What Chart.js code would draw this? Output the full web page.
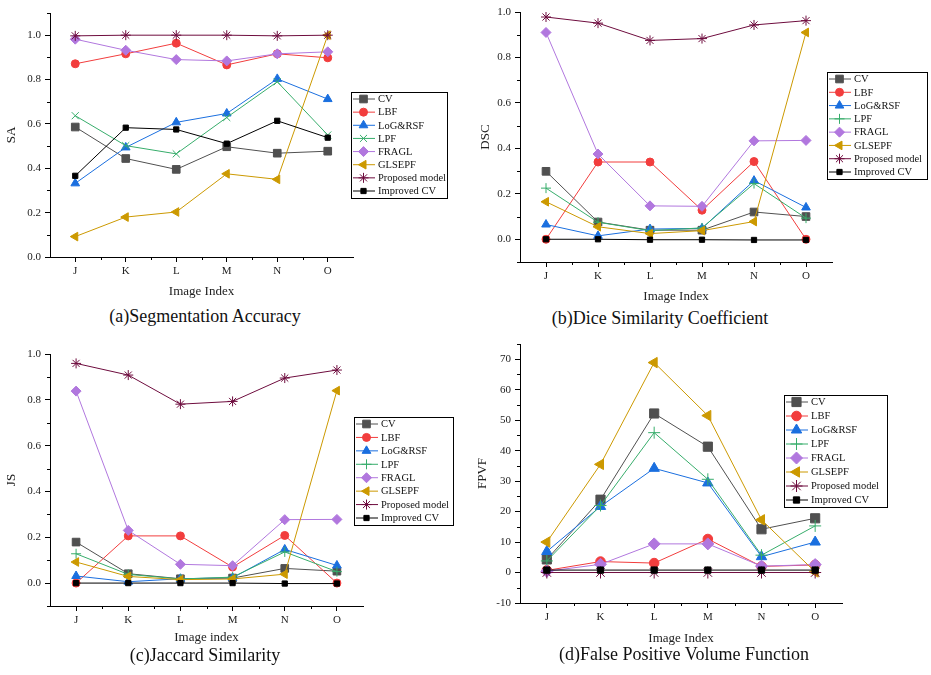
<!DOCTYPE html>
<html lang="en">
<head>
<meta charset="UTF-8">
<title>Segmentation metrics by image index</title>
<script src="https://cdn.jsdelivr.net/npm/chart.js"></script>
<style>
  body { margin: 0; background: #fff; }
  #wrap { position: relative; width: 931px; height: 675px; background: #fff; overflow: hidden; }
  #wrap canvas { position: absolute; }
  .cap { position: absolute; width: 400px; text-align: center; font: 18px "Liberation Serif", "Times New Roman", serif; color: #111; line-height: 20px; }
</style>
</head>
<body>
<div id="wrap">
  <canvas id="cA" width="465" height="305" style="left:0;top:0"></canvas>
  <canvas id="cB" width="466" height="305" style="left:465px;top:0"></canvas>
  <canvas id="cC" width="465" height="320" style="left:0;top:330px"></canvas>
  <canvas id="cD" width="466" height="320" style="left:465px;top:330px"></canvas>
  <div class="cap" style="left:5px;top:306px">(a)Segmentation Accuracy</div>
  <div class="cap" style="left:460px;top:308px">(b)Dice Similarity Coefficient</div>
  <div class="cap" style="left:5px;top:645px">(c)Jaccard Similarity</div>
  <div class="cap" style="left:484px;top:644px">(d)False Positive Volume Function</div>
</div>

<script>
const imageIndex = ['J', 'K', 'L', 'M', 'N', 'O'];
const methodNames = ['CV', 'LBF', 'LoG&RSF', 'LPF', 'FRAGL', 'GLSEPF', 'Proposed model', 'Improved CV'];

// rows follow methodNames
const saValues = [
  [0.586, 0.444, 0.395, 0.497, 0.468, 0.477],
  [0.871, 0.916, 0.964, 0.866, 0.916, 0.898],
  [0.332, 0.494, 0.607, 0.647, 0.803, 0.712],
  [0.637, 0.502, 0.465, 0.629, 0.790, 0.550],
  [0.982, 0.932, 0.890, 0.884, 0.916, 0.925],
  [0.092, 0.180, 0.203, 0.375, 0.350, 1.000],
  [0.997, 1.000, 1.000, 1.000, 0.997, 1.000],
  [0.366, 0.583, 0.575, 0.511, 0.614, 0.538]
];
const dscValues = [
  [0.299, 0.076, 0.040, 0.040, 0.120, 0.100],
  [0.000, 0.340, 0.340, 0.128, 0.342, 0.000],
  [0.065, 0.015, 0.045, 0.048, 0.258, 0.140],
  [0.225, 0.075, 0.038, 0.050, 0.245, 0.093],
  [0.910, 0.375, 0.147, 0.145, 0.433, 0.435],
  [0.165, 0.055, 0.025, 0.038, 0.078, 0.910],
  [0.978, 0.951, 0.875, 0.883, 0.943, 0.962],
  [0.000, 0.000, -0.002, -0.002, -0.003, -0.003]
];
const jsValues = [
  [0.179, 0.041, 0.019, 0.022, 0.064, 0.052],
  [0.000, 0.206, 0.206, 0.070, 0.208, 0.000],
  [0.031, 0.006, 0.019, 0.023, 0.147, 0.077],
  [0.128, 0.038, 0.018, 0.026, 0.136, 0.050],
  [0.838, 0.230, 0.082, 0.076, 0.277, 0.278],
  [0.092, 0.029, 0.015, 0.018, 0.039, 0.840],
  [0.959, 0.908, 0.781, 0.793, 0.895, 0.930],
  [0.000, 0.000, 0.000, 0.000, -0.002, -0.002]
];
const fpvfValues = [
  [4.3, 23.9, 52.2, 41.3, 14.2, 17.8],
  [0.7, 3.6, 3.1, 11.0, 2.0, 2.5],
  [6.9, 21.7, 34.2, 29.4, 5.2, 10.0],
  [3.8, 22.0, 45.9, 30.6, 5.7, 15.3],
  [0.4, 2.7, 9.4, 9.4, 2.1, 2.6],
  [10.0, 35.5, 68.9, 51.5, 17.3, 0.2],
  [0.0, 0.0, 0.0, 0.0, 0.0, 0.0],
  [0.8, 0.8, 0.8, 0.8, 0.8, 0.8]
];

const colors = ['#505050', '#f23d3d', '#1a6fdf', '#37ad6b', '#b177de', '#cc9900', '#6e0c3e', '#000000'];
const shapes = ['rect', 'circle', 'triangle', 'cross', 'rectRot', 'triangle', 'star', 'rect'];
const rotations = [0, 0, 0, 0, 0, -90, 0, 0];
const sizes = [5.4, 4, 5, 5, 5, 5, 5, 3.7];

const serif = '"Liberation Serif", "Times New Roman", serif';

// minor ticks between the major ones, drawn through the scales
const minorTicks = {
  id: 'minorTicks',
  afterDraw(chart, args, opts) {
    const { ctx, chartArea } = chart;
    const x = chart.scales.x, y = chart.scales.y;
    ctx.save();
    ctx.strokeStyle = '#000';
    ctx.lineWidth = 1;
    ctx.beginPath();
    for (let i = 0; i < imageIndex.length - 1; i++) {
      const px = Math.round((x.getPixelForValue(i) + x.getPixelForValue(i + 1)) / 2) + 0.5;
      ctx.moveTo(px, chartArea.bottom);
      ctx.lineTo(px, chartArea.bottom + 3);
    }
    const n = Math.round((y.max - y.min) / opts.step);
    for (let k = 0; k <= n; k++) {
      const v = y.min + k * opts.step;
      const r = v / opts.major;
      if (Math.abs(r - Math.round(r)) < 1e-6) continue;
      const py = Math.round(y.getPixelForValue(v)) + 0.5;
      ctx.moveTo(chartArea.left, py);
      ctx.lineTo(chartArea.left - 3, py);
    }
    ctx.stroke();
    ctx.restore();
  }
};

// framed legend, line + marker + name
const boxLegend = {
  id: 'boxLegend',
  afterDraw(chart, args, opts) {
    const ctx = chart.ctx;
    const { x, y, w, h } = opts;
    const gap = (h - 14) / 7;
    ctx.save();
    ctx.fillStyle = '#fff';
    ctx.fillRect(x, y, w, h);
    ctx.strokeStyle = '#000';
    ctx.lineWidth = 1;
    ctx.strokeRect(x + 0.5, y + 0.5, w, h);
    chart.data.datasets.forEach((ds, i) => {
      const cy = y + 7 + i * gap;
      ctx.strokeStyle = ds.borderColor;
      ctx.lineWidth = 1;
      ctx.beginPath();
      ctx.moveTo(x + 2, cy);
      ctx.lineTo(x + 24, cy);
      ctx.stroke();
      ctx.fillStyle = ds.pointBackgroundColor;
      ctx.strokeStyle = ds.pointBorderColor;
      Chart.helpers.drawPoint(ctx, {
        pointStyle: ds.pointStyle, rotation: ds.pointRotation,
        radius: ds.pointRadius, borderWidth: 1
      }, x + 12.5, cy);
      ctx.fillStyle = '#111';
      ctx.font = '10.5px ' + serif;
      ctx.textBaseline = 'middle';
      ctx.fillText(methodNames[i], x + 27, cy + 0.5);
    });
    ctx.restore();
  }
};

function makePanel(id, p) {
  const datasets = p.values.map((vals, i) => ({
    label: methodNames[i],
    data: vals,
    borderColor: colors[i],
    borderWidth: 1,
    pointStyle: (i === 3 && p.xMarks) ? 'crossRot' : shapes[i],
    pointRotation: rotations[i],
    pointRadius: sizes[i] * (p.markScale || 1),
    pointBackgroundColor: colors[i],
    pointBorderColor: colors[i],
    pointBorderWidth: 1,
    tension: 0,
    fill: false,
    order: methodNames.length - i
  }));

  const axisGrid = { display: true, drawOnChartArea: false, drawTicks: true, tickLength: 5, tickColor: '#000', tickWidth: 1 };
  const tickFont = { family: serif, size: 11 };
  const titleFont = { family: serif, size: 13 };

  return new Chart(document.getElementById(id), {
    type: 'line',
    data: { labels: imageIndex, datasets },
    options: {
      responsive: false,
      animation: false,
      devicePixelRatio: 1,
      layout: { padding: { left: 0, top: p.padTop, right: p.padRight, bottom: 0 } },
      plugins: {
        legend: { display: false },
        tooltip: { enabled: false },
        minorTicks: { step: p.minor, major: p.step },
        boxLegend: p.legend
      },
      scales: {
        x: {
          type: 'category',
          offset: true,
          grid: axisGrid,
          border: { display: true, color: '#000', width: 1 },
          ticks: { font: tickFont, color: '#222', padding: 3, maxRotation: 0, autoSkip: false },
          title: { display: true, text: p.xTitle, font: titleFont, color: '#222', padding: { top: 0, bottom: p.xTitlePad } },
          afterFit: s => { s.height = p.xHeight; }
        },
        y: {
          min: p.min,
          max: p.max,
          grid: axisGrid,
          border: { display: true, color: '#000', width: 1 },
          ticks: {
            stepSize: p.step,
            includeBounds: false,
            font: tickFont,
            color: '#222',
            padding: 4,
            callback: v => v.toFixed(p.decimals)
          },
          title: { display: true, text: p.yTitle, font: titleFont, color: '#222', padding: { top: p.yTitlePad, bottom: 0 } },
          afterFit: s => { s.width = p.yWidth; }
        }
      }
    },
    plugins: [minorTicks, boxLegend]
  });
}

makePanel('cA', {
  values: saValues, min: 0, max: 1.1, step: 0.2, minor: 0.1, decimals: 1,
  yTitle: 'SA', xTitle: 'Image Index', xMarks: true,
  padTop: 13, padRight: 112, yWidth: 50, xHeight: 48, xTitlePad: 6, yTitlePad: 4,
  legend: { x: 351, y: 92, w: 96, h: 106 }
});
makePanel('cB', {
  values: dscValues, min: -0.1, max: 1.0, step: 0.2, minor: 0.1, decimals: 1,
  yTitle: 'DSC', xTitle: 'Image Index',
  padTop: 12, padRight: 99, yWidth: 55, xHeight: 43, xTitlePad: 1, yTitlePad: 13,
  legend: { x: 362, y: 72, w: 100, h: 107 }
});
makePanel('cC', {
  values: jsValues, min: -0.1, max: 1.0, step: 0.2, minor: 0.1, decimals: 1,
  yTitle: 'JS', xTitle: 'Image index',
  padTop: 24, padRight: 102, yWidth: 50, xHeight: 44, xTitlePad: 5, yTitlePad: 4,
  legend: { x: 354, y: 87, w: 99, h: 108 }
});
makePanel('cD', {
  values: fpvfValues, min: -10, max: 75, step: 10, minor: 5, decimals: 0,
  yTitle: 'FPVF', xTitle: 'Image Index', markScale: 1.2,
  padTop: 14, padRight: 89, yWidth: 55, xHeight: 47, xTitlePad: 4, yTitlePad: 10,
  legend: { x: 319, y: 65, w: 103, h: 112 }
});
</script>
</body>
</html>
